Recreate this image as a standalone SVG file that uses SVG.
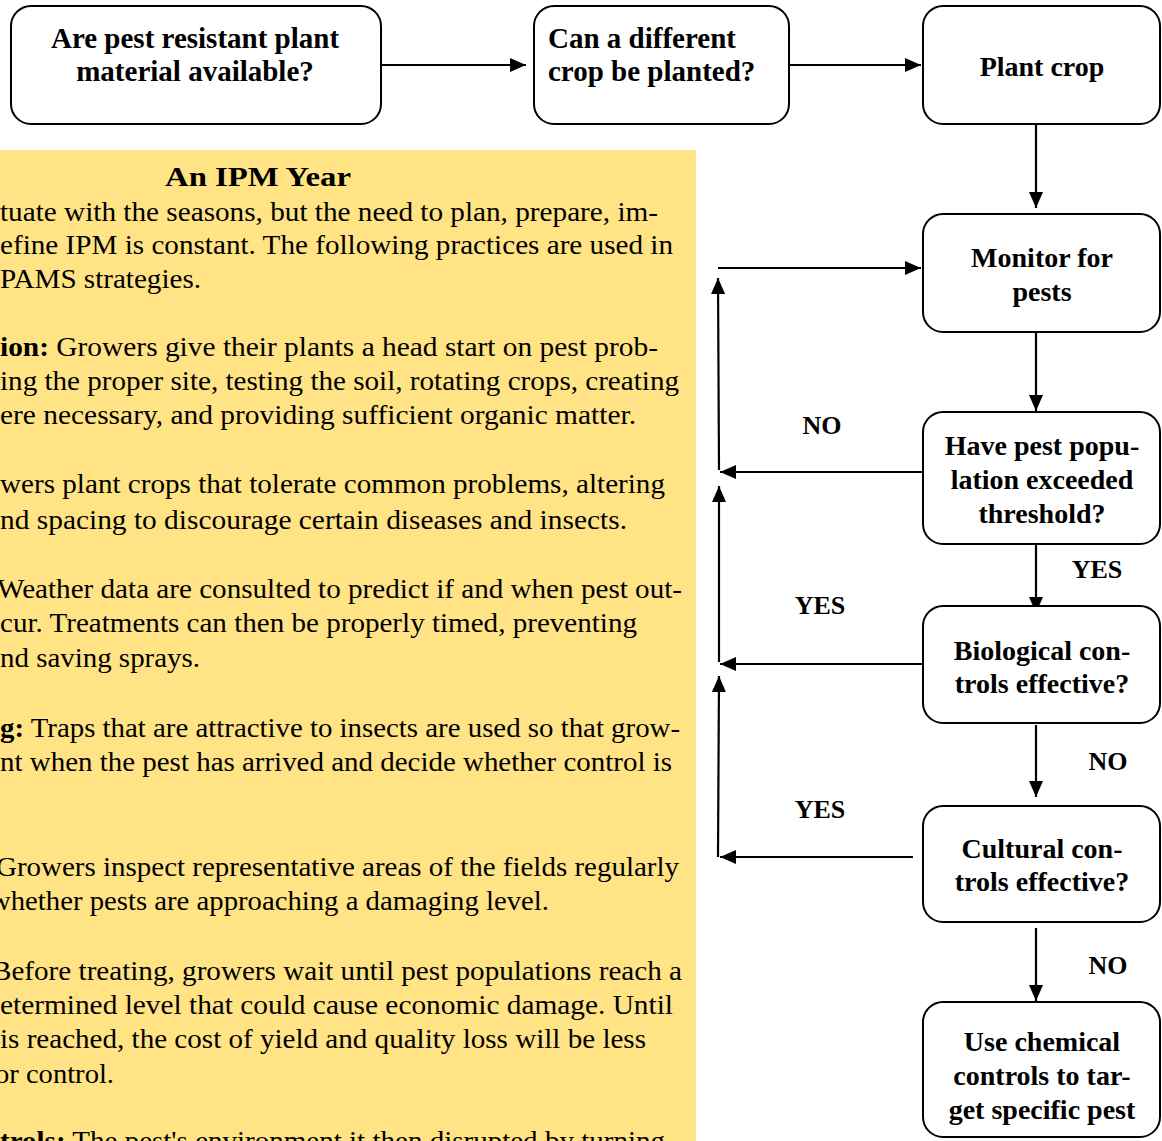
<svg xmlns="http://www.w3.org/2000/svg" width="1162" height="1141" viewBox="0 0 1162 1141">
<style>
.box{fill:#fff;stroke:#000;stroke-width:2}
.nt{font-family:"Liberation Serif","Times New Roman",serif;font-weight:bold;font-size:28px;fill:#000}
.tt{font-family:"Liberation Serif","Times New Roman",serif;font-weight:bold;font-size:29px;fill:#000}
.lb{font-family:"Liberation Serif","Times New Roman",serif;font-weight:bold;font-size:26px;fill:#000}
.bt{font-family:"Liberation Serif","Times New Roman",serif;font-size:28px;fill:#000}
.cn{fill:none;stroke:#000;stroke-width:2.2;marker-end:url(#ah)}
</style>
<defs>
<marker id="ah" markerUnits="userSpaceOnUse" markerWidth="16" markerHeight="14" refX="16" refY="7" orient="auto">
<path d="M0,0 L16,7 L0,14 z" fill="#000"/>
</marker>
</defs>
<rect width="1162" height="1141" fill="#fff"/>

<g id="ipm-year">
<rect x="-10" y="150" width="706" height="1000" fill="#FFE384"/>
<text class="nt" x="165" y="186" font-size="31" textLength="186" lengthAdjust="spacingAndGlyphs">An IPM Year</text>
<text class="bt" x="0" y="221" textLength="658" lengthAdjust="spacingAndGlyphs">tuate with the seasons, but the need to plan, prepare, im-</text>
<text class="bt" x="0" y="254" textLength="673" lengthAdjust="spacingAndGlyphs">efine IPM is constant.  The following practices are used in</text>
<text class="bt" x="0" y="288" textLength="201" lengthAdjust="spacingAndGlyphs">PAMS strategies.</text>
<text class="bt" x="0" y="356" textLength="658" lengthAdjust="spacingAndGlyphs"><tspan font-weight="bold">ion:</tspan> Growers give their plants a head start on pest prob-</text>
<text class="bt" x="0" y="390" textLength="679" lengthAdjust="spacingAndGlyphs">ing the proper site, testing the soil, rotating crops, creating</text>
<text class="bt" x="0" y="424" textLength="636" lengthAdjust="spacingAndGlyphs">ere necessary, and providing sufficient organic matter.</text>
<text class="bt" x="0" y="493" textLength="665" lengthAdjust="spacingAndGlyphs">wers plant crops that tolerate common problems, altering</text>
<text class="bt" x="0" y="529" textLength="627" lengthAdjust="spacingAndGlyphs">nd spacing to discourage certain diseases and insects.</text>
<text class="bt" x="-3" y="598" textLength="685" lengthAdjust="spacingAndGlyphs">Weather data are consulted to predict if and when pest out-</text>
<text class="bt" x="0" y="632" textLength="637" lengthAdjust="spacingAndGlyphs">cur. Treatments can then be properly timed, preventing</text>
<text class="bt" x="0" y="667" textLength="200" lengthAdjust="spacingAndGlyphs">nd saving sprays.</text>
<text class="bt" x="0" y="737" textLength="680" lengthAdjust="spacingAndGlyphs"><tspan font-weight="bold">g:</tspan> Traps that are attractive to insects are used so that grow-</text>
<text class="bt" x="0" y="771" textLength="672" lengthAdjust="spacingAndGlyphs">nt when the pest has arrived and decide whether control is</text>
<text class="bt" x="-4" y="876" textLength="683" lengthAdjust="spacingAndGlyphs">Growers inspect representative areas of the fields regularly</text>
<text class="bt" x="-10" y="910" textLength="559" lengthAdjust="spacingAndGlyphs">whether pests are approaching a damaging level.</text>
<text class="bt" x="-8" y="980" textLength="690" lengthAdjust="spacingAndGlyphs">Before treating, growers wait until pest populations reach a</text>
<text class="bt" x="0" y="1014" textLength="673" lengthAdjust="spacingAndGlyphs">etermined level that could cause economic damage. Until</text>
<text class="bt" x="0" y="1048" textLength="646" lengthAdjust="spacingAndGlyphs">is reached, the cost of yield and quality loss will be less</text>
<text class="bt" x="-5" y="1083" textLength="119" lengthAdjust="spacingAndGlyphs">or control.</text>
<text class="bt" x="0" y="1150" textLength="665" lengthAdjust="spacingAndGlyphs"><tspan font-weight="bold">trols:</tspan> The pest's environment it then disrupted by turning</text>
</g>

<g id="connectors">
<line class="cn" x1="382" y1="65" x2="526" y2="65"/>
<line class="cn" x1="790" y1="65" x2="921" y2="65"/>
<line class="cn" x1="1036" y1="125" x2="1036" y2="208"/>
<line class="cn" x1="1036" y1="333" x2="1036" y2="411"/>
<line class="cn" x1="1036" y1="545" x2="1036" y2="613"/>
<line class="cn" x1="1036" y1="725" x2="1036" y2="797"/>
<line class="cn" x1="1036" y1="928" x2="1036" y2="1001"/>
<line class="cn" x1="718" y1="268" x2="921" y2="268"/>
<line class="cn" x1="719" y1="470" x2="718" y2="278"/>
<line class="cn" x1="922" y1="472" x2="720" y2="472"/>
<line class="cn" x1="719" y1="662" x2="719" y2="486"/>
<line class="cn" x1="922" y1="664" x2="720" y2="664"/>
<line class="cn" x1="718" y1="857" x2="719" y2="676"/>
<line class="cn" x1="913" y1="857" x2="720" y2="857"/>
<text class="lb" x="822" y="434" text-anchor="middle">NO</text>
<text class="lb" x="820" y="614" text-anchor="middle">YES</text>
<text class="lb" x="820" y="818" text-anchor="middle">YES</text>
<text class="lb" x="1097" y="578" text-anchor="middle">YES</text>
<text class="lb" x="1108" y="770" text-anchor="middle">NO</text>
<text class="lb" x="1108" y="974" text-anchor="middle">NO</text>
</g>

<g id="n-resistant">
<rect class="box" x="11" y="6" width="370" height="118" rx="20"/>
<text class="tt" x="195" y="48" text-anchor="middle">Are pest resistant plant</text>
<text class="tt" x="195" y="81" text-anchor="middle">material available?</text>
</g>
<g id="n-different">
<rect class="box" x="534" y="6" width="255" height="118" rx="20"/>
<text class="tt" x="548" y="48">Can a different</text>
<text class="tt" x="548" y="81">crop be planted?</text>
</g>
<g id="n-plant">
<rect class="box" x="923" y="6" width="237" height="118" rx="20"/>
<text class="nt" x="1042" y="76" text-anchor="middle">Plant crop</text>
</g>
<g id="n-monitor">
<rect class="box" x="923" y="214" width="237" height="118" rx="20"/>
<text class="nt" x="1042" y="267" text-anchor="middle">Monitor for</text>
<text class="nt" x="1042" y="301" text-anchor="middle">pests</text>
</g>
<g id="n-threshold">
<rect class="box" x="923" y="412" width="237" height="132" rx="20"/>
<text class="nt" x="1042" y="455" text-anchor="middle">Have pest popu-</text>
<text class="nt" x="1042" y="489" text-anchor="middle">lation exceeded</text>
<text class="nt" x="1042" y="523" text-anchor="middle">threshold?</text>
</g>
<g id="n-biological">
<rect class="box" x="923" y="606" width="237" height="117" rx="20"/>
<text class="nt" x="1042" y="660" text-anchor="middle">Biological con-</text>
<text class="nt" x="1042" y="693" text-anchor="middle">trols effective?</text>
</g>
<g id="n-cultural">
<rect class="box" x="923" y="806" width="237" height="116" rx="20"/>
<text class="nt" x="1042" y="858" text-anchor="middle">Cultural con-</text>
<text class="nt" x="1042" y="891" text-anchor="middle">trols effective?</text>
</g>
<g id="n-chemical">
<rect class="box" x="923" y="1002" width="237" height="135" rx="20"/>
<text class="nt" x="1042" y="1051" text-anchor="middle">Use chemical</text>
<text class="nt" x="1042" y="1085" text-anchor="middle">controls to tar-</text>
<text class="nt" x="1042" y="1119" text-anchor="middle">get specific pest</text>
</g>
</svg>
